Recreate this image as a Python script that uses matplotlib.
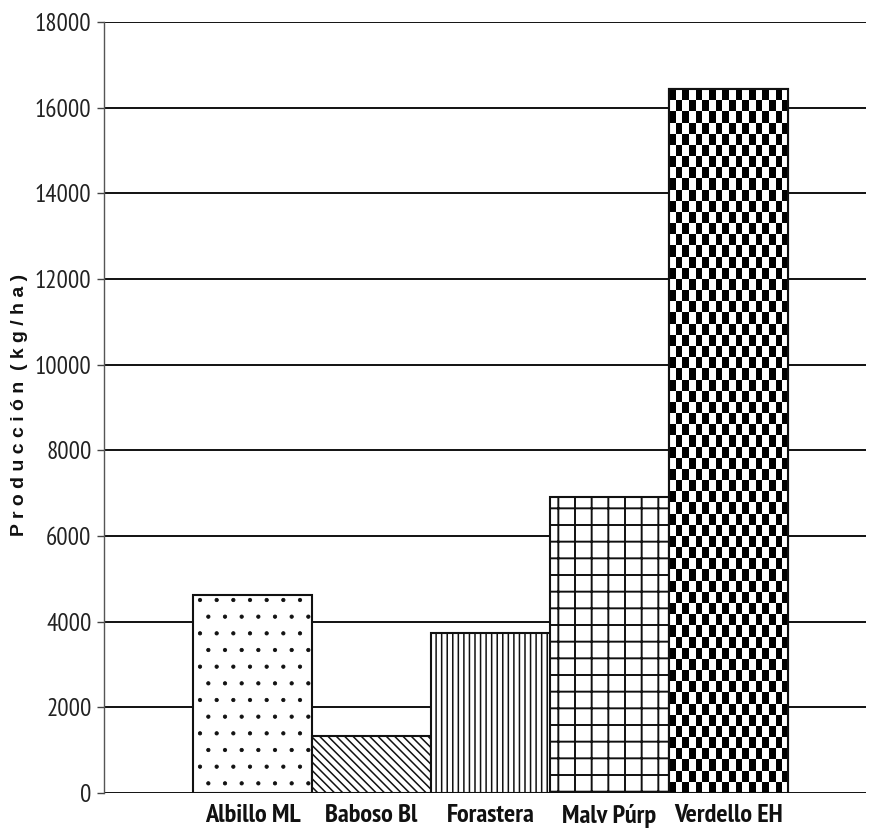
import numpy as np
import matplotlib
matplotlib.use("Agg")
import matplotlib.pyplot as plt
from matplotlib import font_manager

variedades = ["Albillo ML", "Baboso Bl", "Forastera", "Malv Púrp", "Verdello EH"]
produccion = [4620, 1330, 3735, 6900, 16430]
tramas = [".", "\\\\\\\\", "|||", "+", None]
yticks = [0, 2000, 4000, 6000, 8000, 10000, 12000, 14000, 16000, 18000]

# fuente estrecha parecida a Arial Narrow (que tenga negrita)
fuentes = font_manager.fontManager.ttflist
candidatas = ["Liberation Sans Narrow", "Arial Narrow", "Archivo Narrow",
              "PT Sans Narrow", "Roboto Condensed", "Sofia Sans Condensed",
              "Barlow Condensed"]
def tiene_negrita(nombre):
    return any(f.name == nombre and int(f.weight) >= 700 for f in fuentes)
estrecha = next((c for c in candidatas if tiene_negrita(c)), "DejaVu Sans")
narrow = [estrecha, "DejaVu Sans"]

plt.rcParams["hatch.linewidth"] = 1.1

fig = plt.figure(figsize=(8.69, 8.4), dpi=100)
ax = fig.add_axes([104 / 869, 47 / 840, 762 / 869, 771 / 840])

x = np.arange(len(variedades))
bars = ax.bar(x, produccion, width=1.0, color="white", edgecolor="#111111",
              linewidth=1.5, zorder=2)
for b, h in zip(bars, tramas):
    if h:
        b.set_hatch(h)
if hasattr(bars[0], "set_hatch_linewidth"):
    bars[0].set_hatch_linewidth(0.6)
    bars[3].set_hatch_linewidth(1.4)

# tablero de ajedrez para la ultima barra
b = bars[-1]
nfil = int(b.get_height() / 257)
ncol = 18
tablero = (np.add.outer(np.arange(nfil), np.arange(ncol)) % 2).astype(float)
im = ax.imshow(tablero, cmap="gray", interpolation="nearest", aspect="auto",
               extent=(b.get_x(), b.get_x() + b.get_width(), 0, b.get_height()),
               zorder=3)
im.set_clip_path(b)
ax.bar(x[-1], produccion[-1], width=1.0, fill=False, edgecolor="#111111",
       linewidth=1.5, zorder=4)

ax.set_xlim(-1.248, 5.155)
ax.set_ylim(0, 18000)
ax.set_yticks(yticks)
ax.set_yticklabels([str(v) for v in yticks], family=narrow, fontsize=18,
                   color="#222222")
ax.set_xticks(x)
ax.set_xticklabels(variedades, family=narrow, fontsize=19, fontweight="bold",
                   color="#111111")
ax.tick_params(axis="x", length=0, pad=8)
ax.tick_params(axis="y", length=5, width=1, color="#444444", pad=4)

ax.yaxis.grid(True, color="#111111", linewidth=1.4)
ax.set_axisbelow(True)
for s in ["top", "right", "bottom"]:
    ax.spines[s].set_visible(False)
ax.spines["left"].set_color("#555555")
ax.spines["left"].set_linewidth(1.0)

ax.set_ylabel("P r o d u c c i ó n  ( k g / h a )",
              family=["Liberation Sans", "DejaVu Sans"],
              fontsize=14, fontweight="bold", color="#111111")
ax.yaxis.set_label_coords(-0.100, 0.503)

fig.savefig("out.png", dpi=100)
